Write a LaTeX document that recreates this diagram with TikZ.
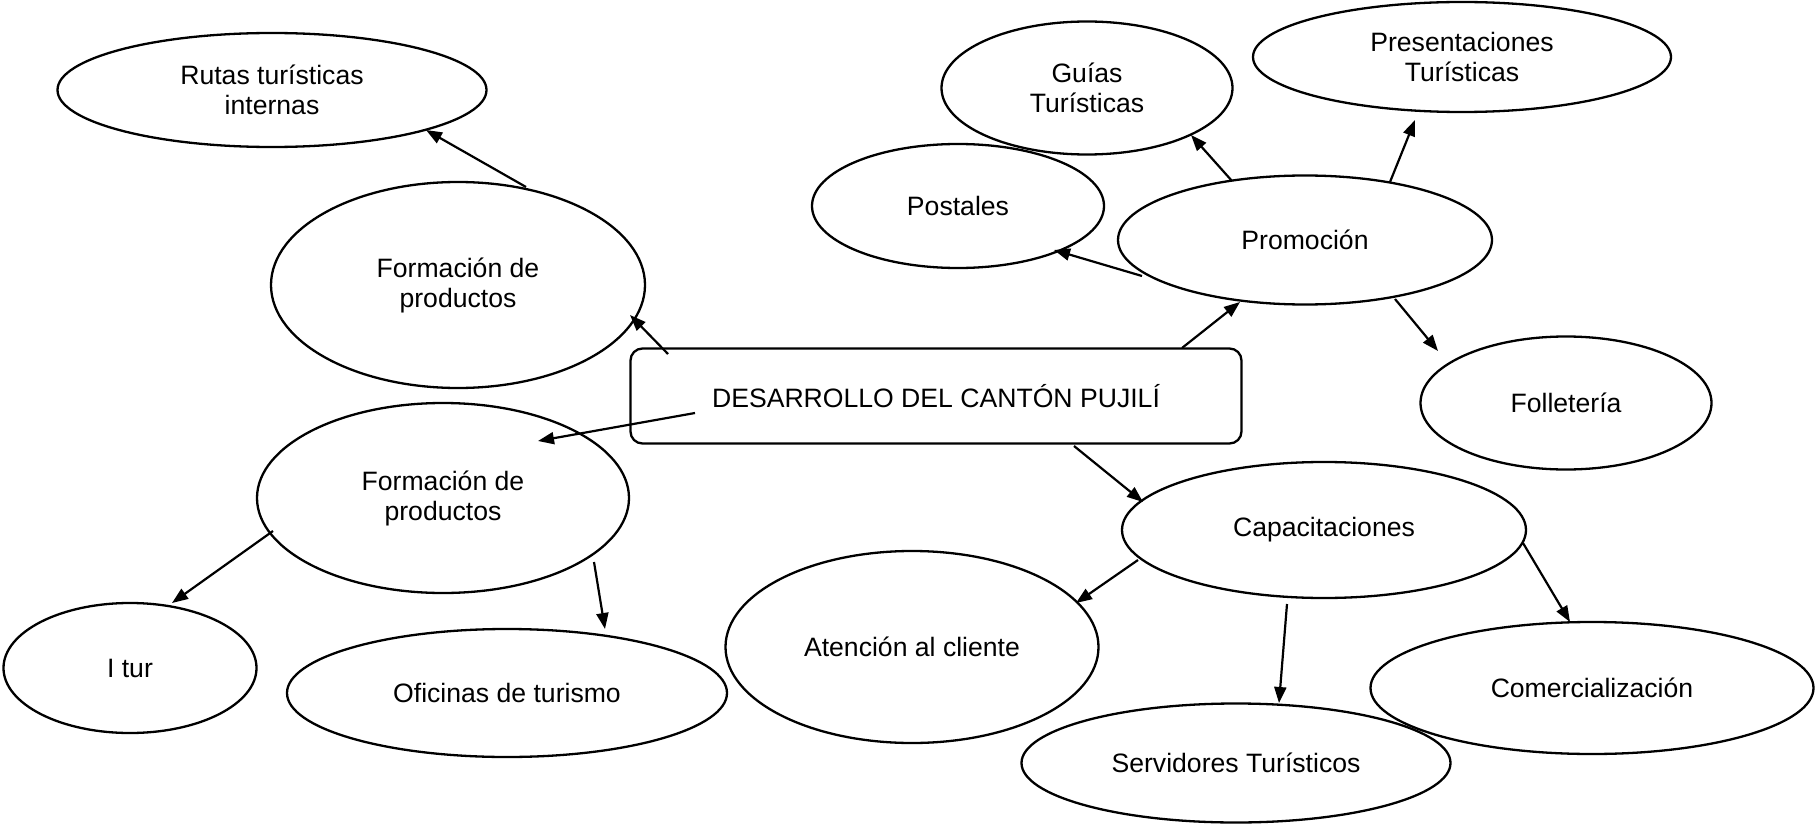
\documentclass[tikz,border=0pt]{standalone}
\usepackage{fontspec}
\setmainfont{Liberation Sans}
\usetikzlibrary{shapes.geometric,arrows.meta,calc}
\tikzset{
  oval/.style={draw=black,line width=1.15pt,ellipse,inner sep=0pt,align=center,font=\fontsize{13.3}{15}\selectfont},
  mainbox/.style={draw=black,line width=1.15pt,rounded corners=6pt,inner sep=0pt,align=center,font=\fontsize{13.3}{15}\selectfont},
  conn/.style={line width=1.1pt,-{Triangle[length=8pt,width=6pt]}}
}
\begin{document}
\begin{tikzpicture}[x=0.5pt,y=-0.5pt]
\useasboundingbox (0,0) rectangle (1816,824);
% nodes (centres in pixel coordinates)
\node[oval,minimum width=214.5pt,minimum height=57pt] (rutas) at (272,90) {Rutas turísticas\\internas};
\node[oval,minimum width=187pt,minimum height=103pt] (formtop) at (458,285) {Formación de\\productos};
\node[mainbox,minimum width=305.5pt,minimum height=47.5pt] (box) at (936,396) {DESARROLLO DEL CANTÓN PUJILÍ};
\node[oval,minimum width=186pt,minimum height=95pt] (formbot) at (443,498) {Formación de\\productos};
\node[oval,minimum width=126.5pt,minimum height=65pt] (itur) at (130,668) {I tur};
\node[oval,minimum width=220pt,minimum height=64pt] (ofic) at (507,693) {Oficinas de turismo};
\node[oval,minimum width=145.5pt,minimum height=66.5pt] (guias) at (1087,88) {Guías\\Turísticas};
\node[oval,minimum width=209pt,minimum height=55pt] (present) at (1462,57) {Presentaciones\\Turísticas};
\node[oval,minimum width=146pt,minimum height=62pt] (postales) at (958,206) {Postales};
\node[oval,minimum width=187pt,minimum height=64.5pt] (promo) at (1305,240) {Promoción};
\node[oval,minimum width=145.5pt,minimum height=66.5pt] (follet) at (1566,403) {Folletería};
\node[oval,minimum width=202pt,minimum height=68pt] (capac) at (1324,530) {Capacitaciones};
\node[oval,minimum width=186.5pt,minimum height=96pt] (atenc) at (912,647) {Atención al cliente};
\node[oval,minimum width=214.5pt,minimum height=59.5pt] (servid) at (1236,763) {Servidores Turísticos};
\node[oval,minimum width=221.5pt,minimum height=66pt] (comerc) at (1592,688) {Comercialización};
% connectors
\draw[conn] ($(formtop.center)+(68,-98)$) -- ($(rutas.center)+(154,40)$);
\draw[conn] ($(box.center)+(-268,-42)$) -- ($(formtop.center)+(172,30)$);
\draw[conn] ($(box.center)+(-241,17)$) -- ($(formbot.center)+(95,-57)$);
\draw[conn] ($(formbot.center)+(-170,33)$) -- ($(itur.center)+(42,-65)$);
\draw[conn] ($(formbot.center)+(151,64)$) -- ($(ofic.center)+(98,-64)$);
\draw[conn] ($(box.center)+(246,-48)$) -- ($(promo.center)+(-65,62)$);
\draw[conn] ($(promo.center)+(-163,36)$) -- ($(postales.center)+(96,44)$);
\draw[conn] ($(promo.center)+(-73,-59)$) -- ($(guias.center)+(104,47)$);
\draw[conn] ($(promo.center)+(85,-58)$) -- ($(present.center)+(-47,63)$);
\draw[conn] ($(promo.center)+(90,59)$) -- ($(follet.center)+(-128,-52)$);
\draw[conn] ($(box.center)+(138,50)$) -- ($(capac.center)+(-181,-28)$);
\draw[conn] ($(capac.center)+(-186,30)$) -- ($(atenc.center)+(164,-44)$);
\draw[conn] ($(capac.center)+(-37,74)$) -- ($(servid.center)+(43,-60)$);
\draw[conn] ($(capac.center)+(199,13)$) -- ($(comerc.center)+(-22,-66)$);
\end{tikzpicture}
\end{document}
